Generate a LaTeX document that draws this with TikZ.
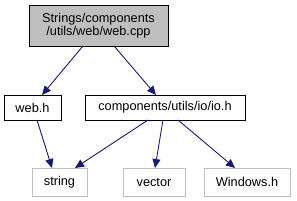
\documentclass[tikz,border=0pt]{standalone}
\usepackage{fontspec}
\setmainfont{Liberation Sans}
\usetikzlibrary{arrows.meta}
\definecolor{edgeblue}{HTML}{191970}
\definecolor{lightgrey}{HTML}{BFBFBF}
\begin{document}
\begin{tikzpicture}[x=1bp,y=-1bp,
  every node/.style={font=\fontsize{12.8}{15}\selectfont, inner sep=0pt, outer sep=0pt},
  mainbox/.style={draw=black, fill=lightgrey, line width=0.9bp, align=center},
  filebox/.style={draw=black, fill=white, line width=0.9bp},
  extbox/.style={draw=lightgrey, fill=white, line width=0.9bp},
  dep/.style={draw=edgeblue, line width=0.9bp, -{Triangle[length=9bp,width=8bp]}}]
\useasboundingbox (0,0) rectangle (297,201);
\node[mainbox, minimum width=139bp, minimum height=41bp] (top) at (98.5,25.5) {Strings/components\\[-1.5bp]/utils/web/web.cpp};
\node[filebox, minimum width=57bp, minimum height=25bp] (web) at (32.5,107.5) {web.h};
\node[filebox, minimum width=160bp, minimum height=25bp] (io) at (165,107.5) {components/utils/io/io.h};
\node[extbox, minimum width=55bp, minimum height=28bp] (str) at (59.5,182) {string};
\node[extbox, minimum width=62bp, minimum height=28bp] (vec) at (154,182) {vector};
\node[extbox, minimum width=86bp, minimum height=28bp] (win) at (247,182) {Windows.h};
\draw[dep] (top.south -| 83,0) -- (web.north -| 42,0);
\draw[dep] (top.south -| 114,0) -- (io.north -| 156,0);
\draw[dep] (web.south -| 37,0) -- (str.north -| 52,0);
\draw[dep] (io.south -| 148,0) -- (str.north -| 75,0);
\draw[dep] (io.south -| 163,0) -- (vec.north -| 155,0);
\draw[dep] (io.south -| 178,0) -- (win.north -| 235,0);
\end{tikzpicture}
\end{document}
